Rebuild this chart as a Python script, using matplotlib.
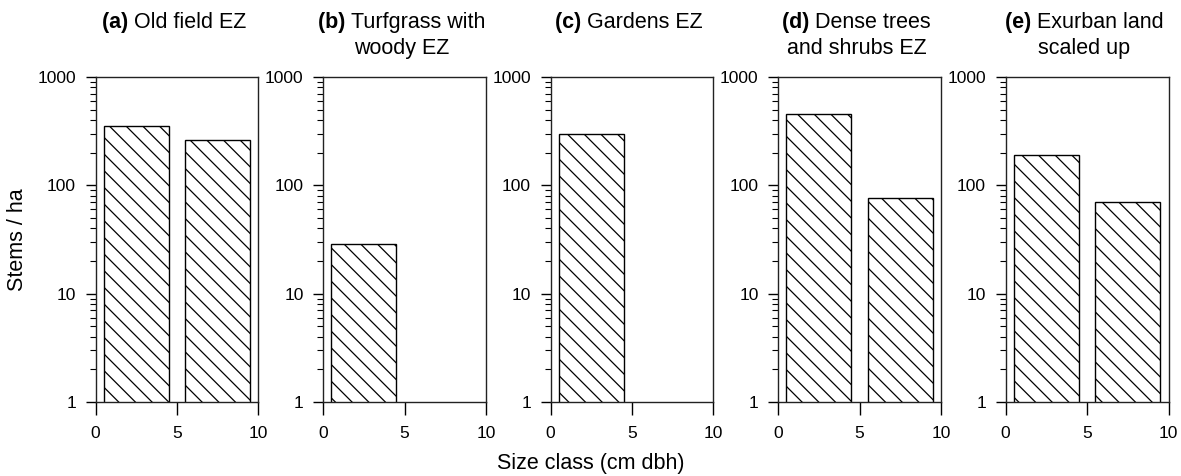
import matplotlib.pyplot as plt
import numpy as np
from matplotlib.ticker import LogLocator, FixedLocator, NullFormatter

plt.rcParams["font.family"] = ["Liberation Sans", "DejaVu Sans"]
plt.rcParams["hatch.linewidth"] = 0.9

# size classes (cm dbh), bar centres
size_classes = [2.5, 7.5]

# stems per ha for each panel (0 = no bar)
old_field = [350, 260]
turfgrass_woody = [29, 0]
gardens = [300, 0]
dense_trees = [455, 77]
exurban = [190, 70]

panel_values = [old_field, turfgrass_woody, gardens, dense_trees, exurban]
panel_tags = ["(a)", "(b)", "(c)", "(d)", "(e)"]
panel_titles = [
    "Old field EZ",
    "Turfgrass with\nwoody EZ",
    "Gardens EZ",
    "Dense trees\nand shrubs EZ",
    "Exurban land\nscaled up",
]

W, H = 1181, 476
fig = plt.figure(figsize=(W / 100, H / 100), dpi=100)

lefts = [95.5, 323, 550.5, 778, 1005.5]
ax_w = 163
top_px, bot_px = 77, 402
title_y = 12

for i, (vals, tag, ttl) in enumerate(zip(panel_values, panel_tags, panel_titles)):
    ax = fig.add_axes([lefts[i] / W, 1 - bot_px / H, ax_w / W, (bot_px - top_px) / H])
    xs = [x for x, v in zip(size_classes, vals) if v > 0]
    vs = [v for v in vals if v > 0]
    ax.bar(xs, vs, width=4, bottom=0, color="white", edgecolor="black",
           linewidth=1.0, hatch="\\\\")
    ax.set_yscale("log")
    ax.set_ylim(1, 1000)
    ax.set_xlim(0, 10)
    ax.xaxis.set_major_locator(FixedLocator([0, 5, 10]))
    ax.yaxis.set_major_locator(FixedLocator([1, 10, 100, 1000]))
    ax.yaxis.set_major_formatter(plt.FuncFormatter(lambda v, p: "%d" % v))
    ax.yaxis.set_minor_locator(LogLocator(base=10, subs=np.arange(2, 10)))
    ax.yaxis.set_minor_formatter(NullFormatter())
    ax.tick_params(axis="y", which="major", direction="out", length=7, width=1,
                   labelsize=12.5, pad=7)
    ax.tick_params(axis="y", which="minor", direction="out", length=4.5, width=0.8)
    ax.tick_params(axis="x", which="major", direction="out", length=9, width=1,
                   labelsize=12.5, pad=8)
    ax.tick_params(axis="x", which="minor", length=0)
    for s in ax.spines.values():
        s.set_linewidth(1.0)
        s.set_color("#222222")

    t = fig.text(0, 1 - title_y / H, tag + " ", fontsize=15.5, fontweight="bold",
                 ha="right", va="top")
    lines = ttl.split("\n")
    # first line next to the bold tag, centre the whole block
    fig.canvas.draw()
    r = fig.canvas.get_renderer()
    tag_w = t.get_window_extent(r).width
    t1 = fig.text(0, 1 - title_y / H, lines[0], fontsize=15.5, ha="left", va="top")
    l1_w = t1.get_window_extent(r).width
    start = lefts[i] + ax_w / 2 - (tag_w + l1_w) / 2 - 3
    t.set_position(((start + tag_w) / W, 1 - title_y / H))
    t1.set_position(((start + tag_w) / W, 1 - title_y / H))
    if len(lines) > 1:
        fig.text((start + (tag_w + l1_w) / 2) / W, 1 - (title_y + 26) / H, lines[1],
                 fontsize=15.5, ha="center", va="top")

fig.text(18 / W, 1 - 240 / H, "Stems / ha", rotation=90, fontsize=15.5,
         ha="center", va="center")
fig.text(0.5, 1 - 463 / H, "Size class (cm dbh)", fontsize=15.5,
         ha="center", va="center")

fig.savefig("out.png", dpi=100)
